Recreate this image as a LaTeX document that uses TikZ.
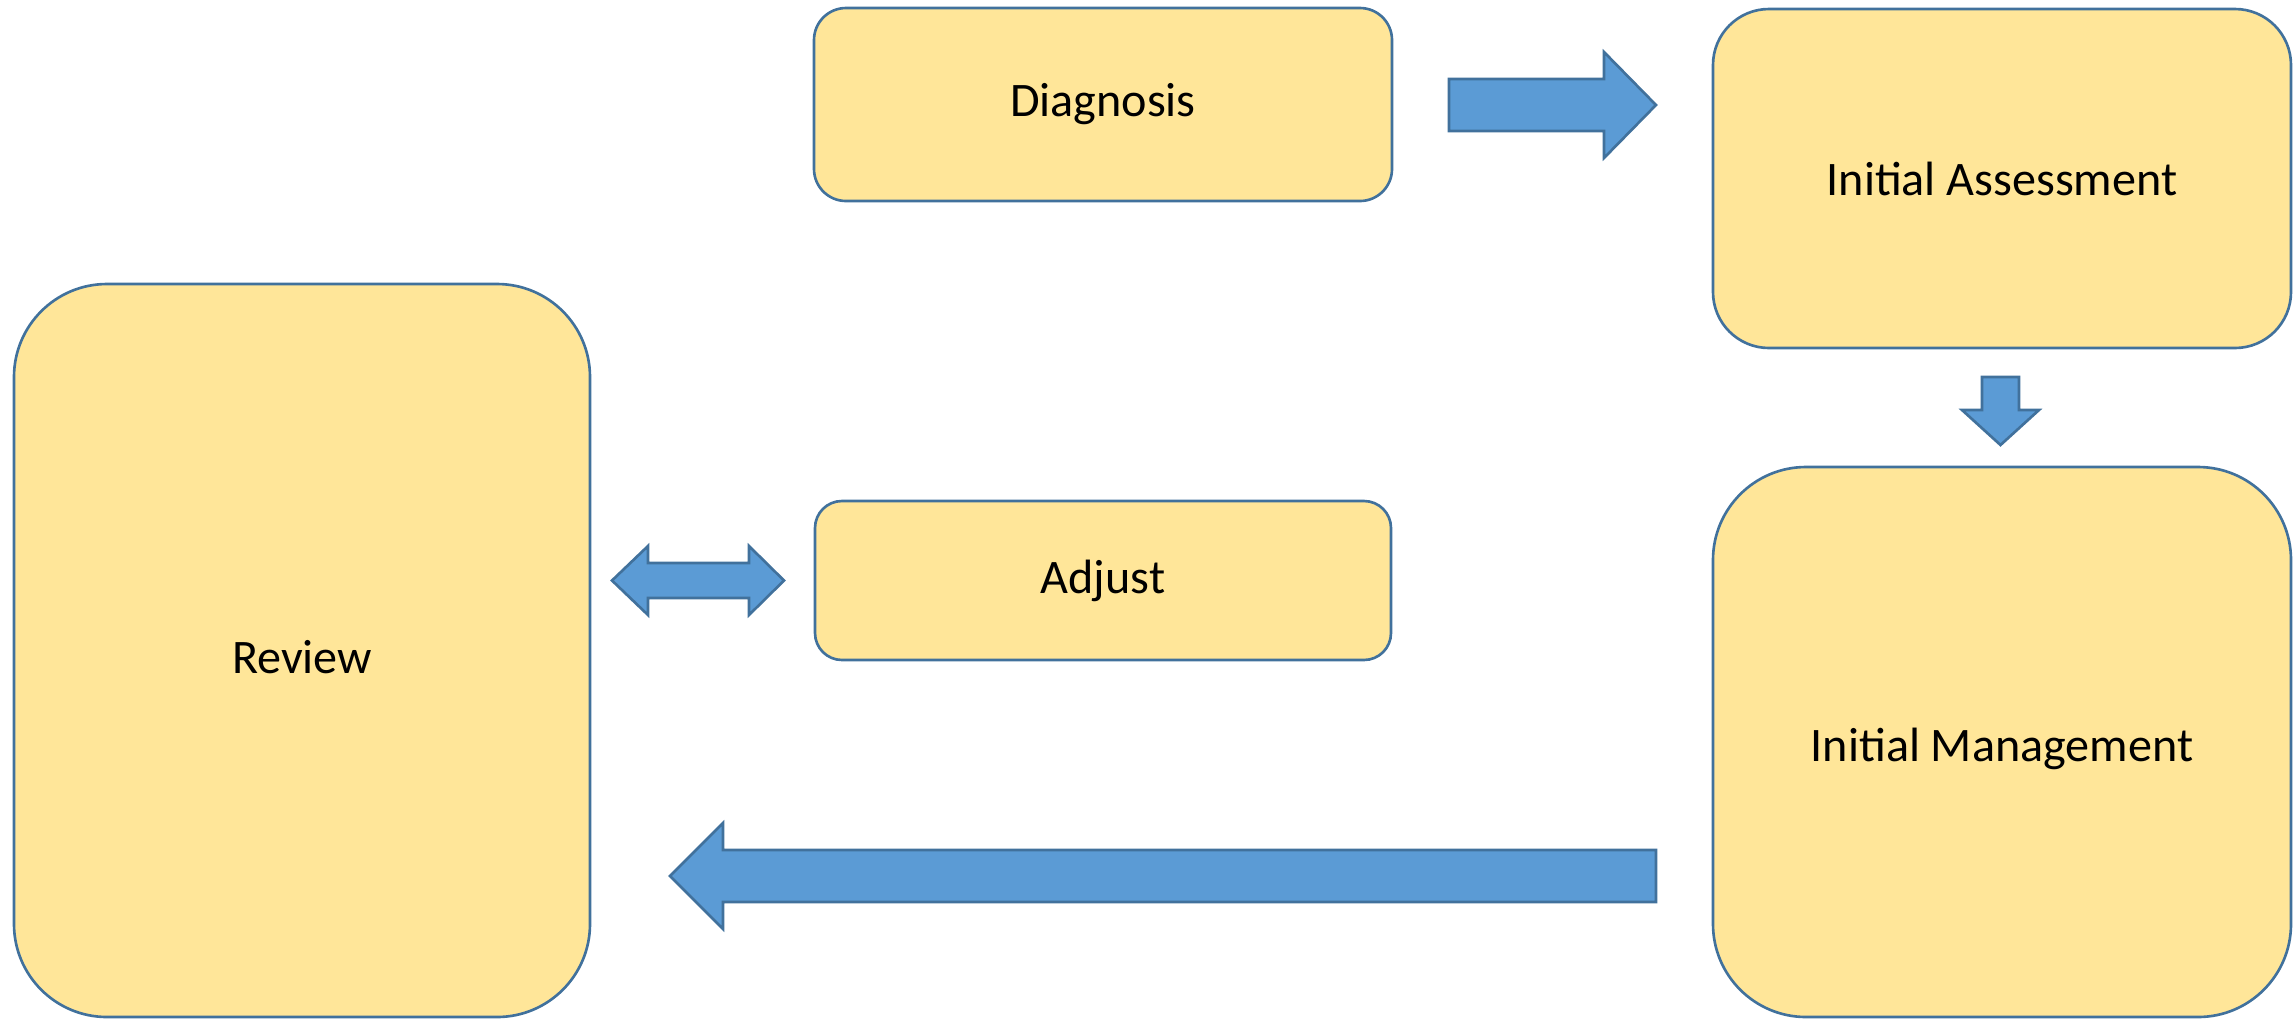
\documentclass[tikz,border=0pt]{standalone}
\usepackage{fontspec}
\setmainfont{Carlito}
\definecolor{boxfill}{HTML}{FFE699}
\definecolor{boxline}{HTML}{41719C}
\definecolor{arrfill}{HTML}{5B9BD5}
\begin{document}
\begin{tikzpicture}[
  box/.style={draw=boxline, fill=boxfill, line width=0.75pt, inner sep=0pt,
    font=\fontsize{13.7}{16}\selectfont, align=center},
  lowtext/.style={label={[font=\fontsize{13.7}{16}\selectfont, yshift=-0.07cm]center:#1}},
  blockarrow/.style={draw=boxline, fill=arrfill, line width=0.75pt, line join=miter}
]
\useasboundingbox (0,0) rectangle (22.94,-10.18);
\node[box, rounded corners=0.32cm, minimum width=5.78cm, minimum height=1.93cm] (diag) at (11.03,-1.045) {Diagnosis};
\node[box, rounded corners=0.56cm, minimum width=5.78cm, minimum height=3.39cm] (ia) at (20.02,-1.785) {Ini\kern0pt tial Assessment};
\node[box, rounded corners=0.93cm, minimum width=5.76cm, minimum height=7.33cm, lowtext=Review] (rev) at (3.02,-6.505) {};
\node[box, rounded corners=0.27cm, minimum width=5.76cm, minimum height=1.59cm] (adj) at (11.03,-5.805) {Adjust};
\node[box, rounded corners=0.93cm, minimum width=5.78cm, minimum height=5.50cm, lowtext={Ini\kern0pt tial Management}] (im) at (20.02,-7.42) {};
% right arrow Diagnosis -> Initial Assessment
\draw[blockarrow] (14.49,-0.79) -- (16.04,-0.79) -- (16.04,-0.52) -- (16.56,-1.05)
  -- (16.04,-1.58) -- (16.04,-1.31) -- (14.49,-1.31) -- cycle;
% down arrow Initial Assessment -> Initial Management
\draw[blockarrow] (19.82,-3.77) -- (20.19,-3.77) -- (20.19,-4.10) -- (20.39,-4.10)
  -- (20.005,-4.45) -- (19.62,-4.10) -- (19.82,-4.10) -- cycle;
% double arrow Review <-> Adjust
\draw[blockarrow] (6.12,-5.805) -- (6.48,-5.46) -- (6.48,-5.63) -- (7.49,-5.63)
  -- (7.49,-5.46) -- (7.84,-5.805) -- (7.49,-6.15) -- (7.49,-5.98)
  -- (6.48,-5.98) -- (6.48,-6.15) -- cycle;
% big left arrow Initial Management -> Review
\draw[blockarrow] (16.56,-8.50) -- (7.23,-8.50) -- (7.23,-8.23) -- (6.70,-8.76)
  -- (7.23,-9.29) -- (7.23,-9.02) -- (16.56,-9.02) -- cycle;
\end{tikzpicture}
\end{document}
